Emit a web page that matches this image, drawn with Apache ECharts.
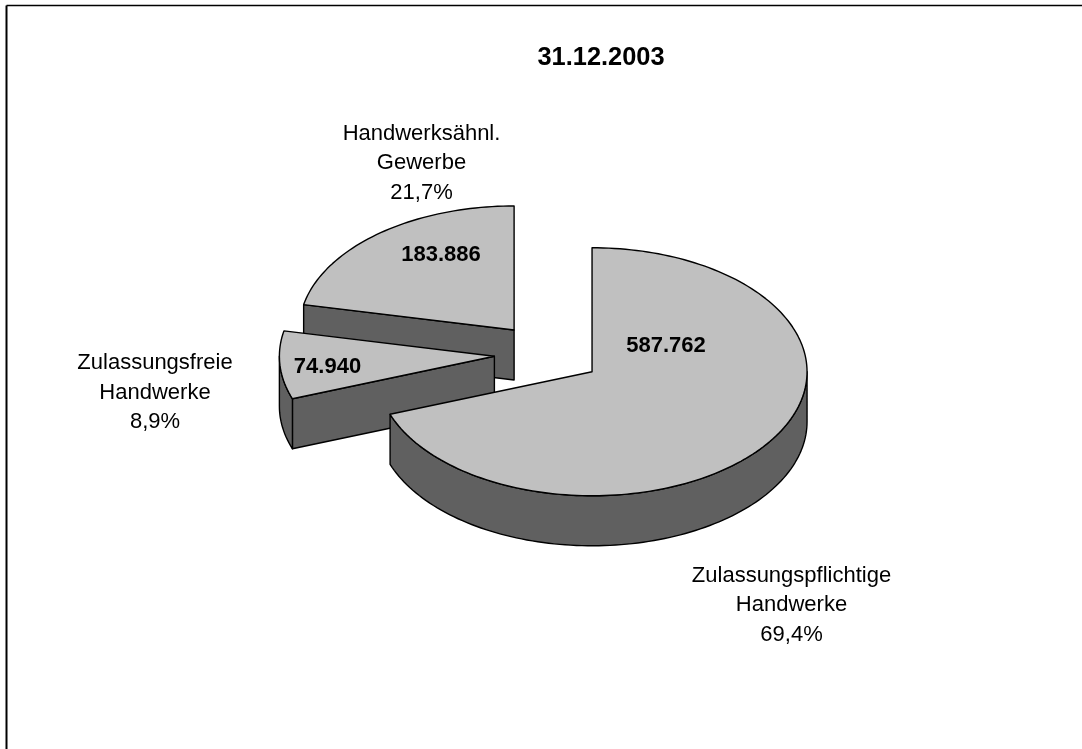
<!DOCTYPE html>
<html>
<head>
<meta charset="utf-8">
<style>html,body{margin:0;padding:0;background:#fff}#c{width:1082px;height:749px}</style>
<script src="https://cdn.jsdelivr.net/npm/echarts@6/dist/echarts.min.js"></script>
</head>
<body>
<div id="c"></div>
<script>
// Data, listed clockwise backwards from 12 o'clock (also the back-to-front draw order)
const chartTitle = '31.12.2003';
const categories = ['Handwerksähnl.\nGewerbe', 'Zulassungsfreie\nHandwerke', 'Zulassungspflichtige\nHandwerke'];
const values = [183886, 74940, 587762];
const valueLabels = ['183.886', '74.940', '587.762'];
const shareLabels = ['21,7%', '8,9%', '69,4%'];

// Layout
const FONT = '"Liberation Sans", Arial, sans-serif';
const cx = 548, cy = 354, rx = 215, ry = 124, depth = 50, explode = 0.25;
const nameAnchors = [[421.5, 163], [155, 392.5], [791.5, 605]];
const valueAnchors = [[441, 255], [327.5, 367], [666, 346]];
const TOP = '#C0C0C0', SIDE = '#606060', EDGE = '#000000', LW = 1.4;

const total = values.reduce((a, b) => a + b, 0);
const rad = d => d * Math.PI / 180;

function arcPoints(ox, oy, from, to, dy) {
  const n = Math.max(2, Math.ceil(Math.abs(to - from) / 1.5));
  const pts = [];
  for (let i = 0; i <= n; i++) {
    const t = rad(from + (to - from) * i / n);
    pts.push([ox + rx * Math.sin(t), oy - ry * Math.cos(t) + dy]);
  }
  return pts;
}
function poly(points, fill) {
  return {type: 'polygon', shape: {points},
    style: {fill, stroke: EDGE, lineWidth: LW, lineJoin: 'round'}};
}

function renderItem(params, api) {
  const i = params.dataIndex;
  const before = values.slice(0, i).reduce((a, b) => a + b, 0);
  const t2 = 360 - before / total * 360;
  const t1 = t2 - api.value(0) / total * 360;
  const mid = rad((t1 + t2) / 2);
  const ox = cx + explode * rx * Math.sin(mid);
  const oy = cy - explode * ry * Math.cos(mid);
  const children = [];
  const edgeAt = t => [ox + rx * Math.sin(rad(t)), oy - ry * Math.cos(rad(t))];
  const face = t => {
    const p = edgeAt(t);
    return poly([[ox, oy], p, [p[0], p[1] + depth], [ox, oy + depth]], SIDE);
  };
  if (Math.sin(rad(t1)) < -1e-6) children.push(face(t1));
  if (Math.sin(rad(t2)) > 1e-6) children.push(face(t2));
  const a = Math.max(t1, 90), b = Math.min(t2, 270);
  if (b > a) {
    children.push(poly(arcPoints(ox, oy, a, b, 0).concat(arcPoints(ox, oy, b, a, depth)), SIDE));
  }
  children.push(poly([[ox, oy]].concat(arcPoints(ox, oy, t1, t2, 0)), TOP));
  children.push({type: 'text', style: {
    text: valueLabels[i], x: valueAnchors[i][0], y: valueAnchors[i][1],
    align: 'center', verticalAlign: 'middle', fill: '#000',
    font: 'bold 22px ' + FONT}});
  children.push({type: 'text', style: {
    text: categories[i] + '\n' + shareLabels[i], x: nameAnchors[i][0], y: nameAnchors[i][1],
    align: 'center', verticalAlign: 'middle', fill: '#000', lineHeight: 29.5,
    font: '22px ' + FONT}});
  return {type: 'group', children};
}

const chart = echarts.init(document.getElementById('c'), null, {renderer: 'canvas'});
chart.setOption({
  animation: false,
  backgroundColor: '#fff',
  title: {text: chartTitle, left: 596, top: 40, textAlign: 'center',
    textStyle: {fontFamily: FONT, fontWeight: 'bold', fontSize: 25.4, color: '#000'}},
  graphic: [
    {type: 'line', shape: {x1: 6.5, y1: 5.5, x2: 1082, y2: 5.5}, style: {stroke: '#000', lineWidth: 1.6}},
    {type: 'line', shape: {x1: 6.5, y1: 5.5, x2: 6.5, y2: 749}, style: {stroke: '#000', lineWidth: 2}}
  ],
  series: [{type: 'custom', coordinateSystem: 'none', renderItem,
    data: values.map(v => [v]), silent: true}]
});
</script>
</body>
</html>
